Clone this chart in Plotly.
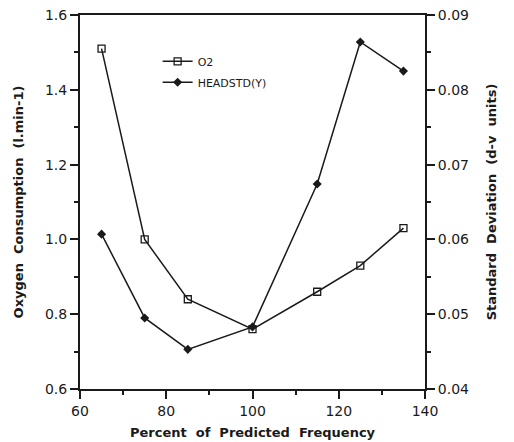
import plotly.graph_objects as go

freq = [65, 75, 85, 100, 115, 125, 135]
o2 = [1.51, 1.00, 0.84, 0.76, 0.86, 0.93, 1.03]
headstd = [0.0607, 0.0495, 0.0453, 0.0483, 0.0674, 0.0864, 0.0825]

font = "DejaVu Sans, sans-serif"
ink = "#1a1a1a"

fig = go.Figure()
fig.add_trace(go.Scatter(
    x=freq, y=o2, name="O2", mode="lines+markers", legendgroup="a",
    line=dict(color=ink, width=1.5),
    marker=dict(symbol="square-open", size=7, color=ink, line=dict(width=1.3)),
))
fig.add_trace(go.Scatter(
    x=freq, y=headstd, name="HEADSTD(Y)", mode="lines+markers", yaxis="y2",
    legendgroup="b",
    line=dict(color=ink, width=1.5),
    marker=dict(symbol="diamond", size=7, color=ink),
))

axis_common = dict(
    showline=True, linecolor=ink, linewidth=2,
    ticks="outside", ticklen=8, tickwidth=1.5, tickcolor=ink,
    showgrid=False, zeroline=False, automargin=False,
    ticklabeloverflow="allow",
    tickfont=dict(family=font, size=14, color=ink),
)
title_font = dict(family=font, size=13, color=ink, weight="bold")

# page body has an 8px margin, so the figure is sized/offset to compensate
fig.update_layout(
    width=506, height=434,
    margin=dict(l=72, r=89, t=7, b=53),
    paper_bgcolor="white", plot_bgcolor="white",
    showlegend=True,
    legend=dict(x=0.225, y=0.915, xanchor="left", yanchor="top",
                bgcolor="rgba(0,0,0,0)", font=dict(family=font, size=11, color=ink),
                traceorder="grouped", tracegroupgap=2),
    xaxis=dict(
        range=[60, 140], dtick=20, tick0=60, mirror=True,
        minor=dict(ticks="outside", dtick=10, ticklen=4, tickcolor=ink),
        title=dict(text="Percent  of  Predicted  Frequency", font=title_font, standoff=10),
        **axis_common,
    ),
    yaxis=dict(
        range=[0.6, 1.6], dtick=0.2, tick0=0.6, tickformat=".1f",
        minor=dict(ticks="outside", dtick=0.1, ticklen=4, tickcolor=ink),
        title=dict(text="Oxygen  Consumption  (l.min-1)", font=title_font, standoff=18),
        **axis_common,
    ),
    yaxis2=dict(
        range=[0.04, 0.09], dtick=0.01, tick0=0.04, tickformat=".2f",
        overlaying="y", side="right", anchor="x",
        minor=dict(ticks="outside", dtick=0.005, ticklen=4, tickcolor=ink),
        title=dict(text="Standard  Deviation  (d-v  units)", font=title_font, standoff=19),
        **axis_common,
    ),
)

fig.write_html("out.html")
